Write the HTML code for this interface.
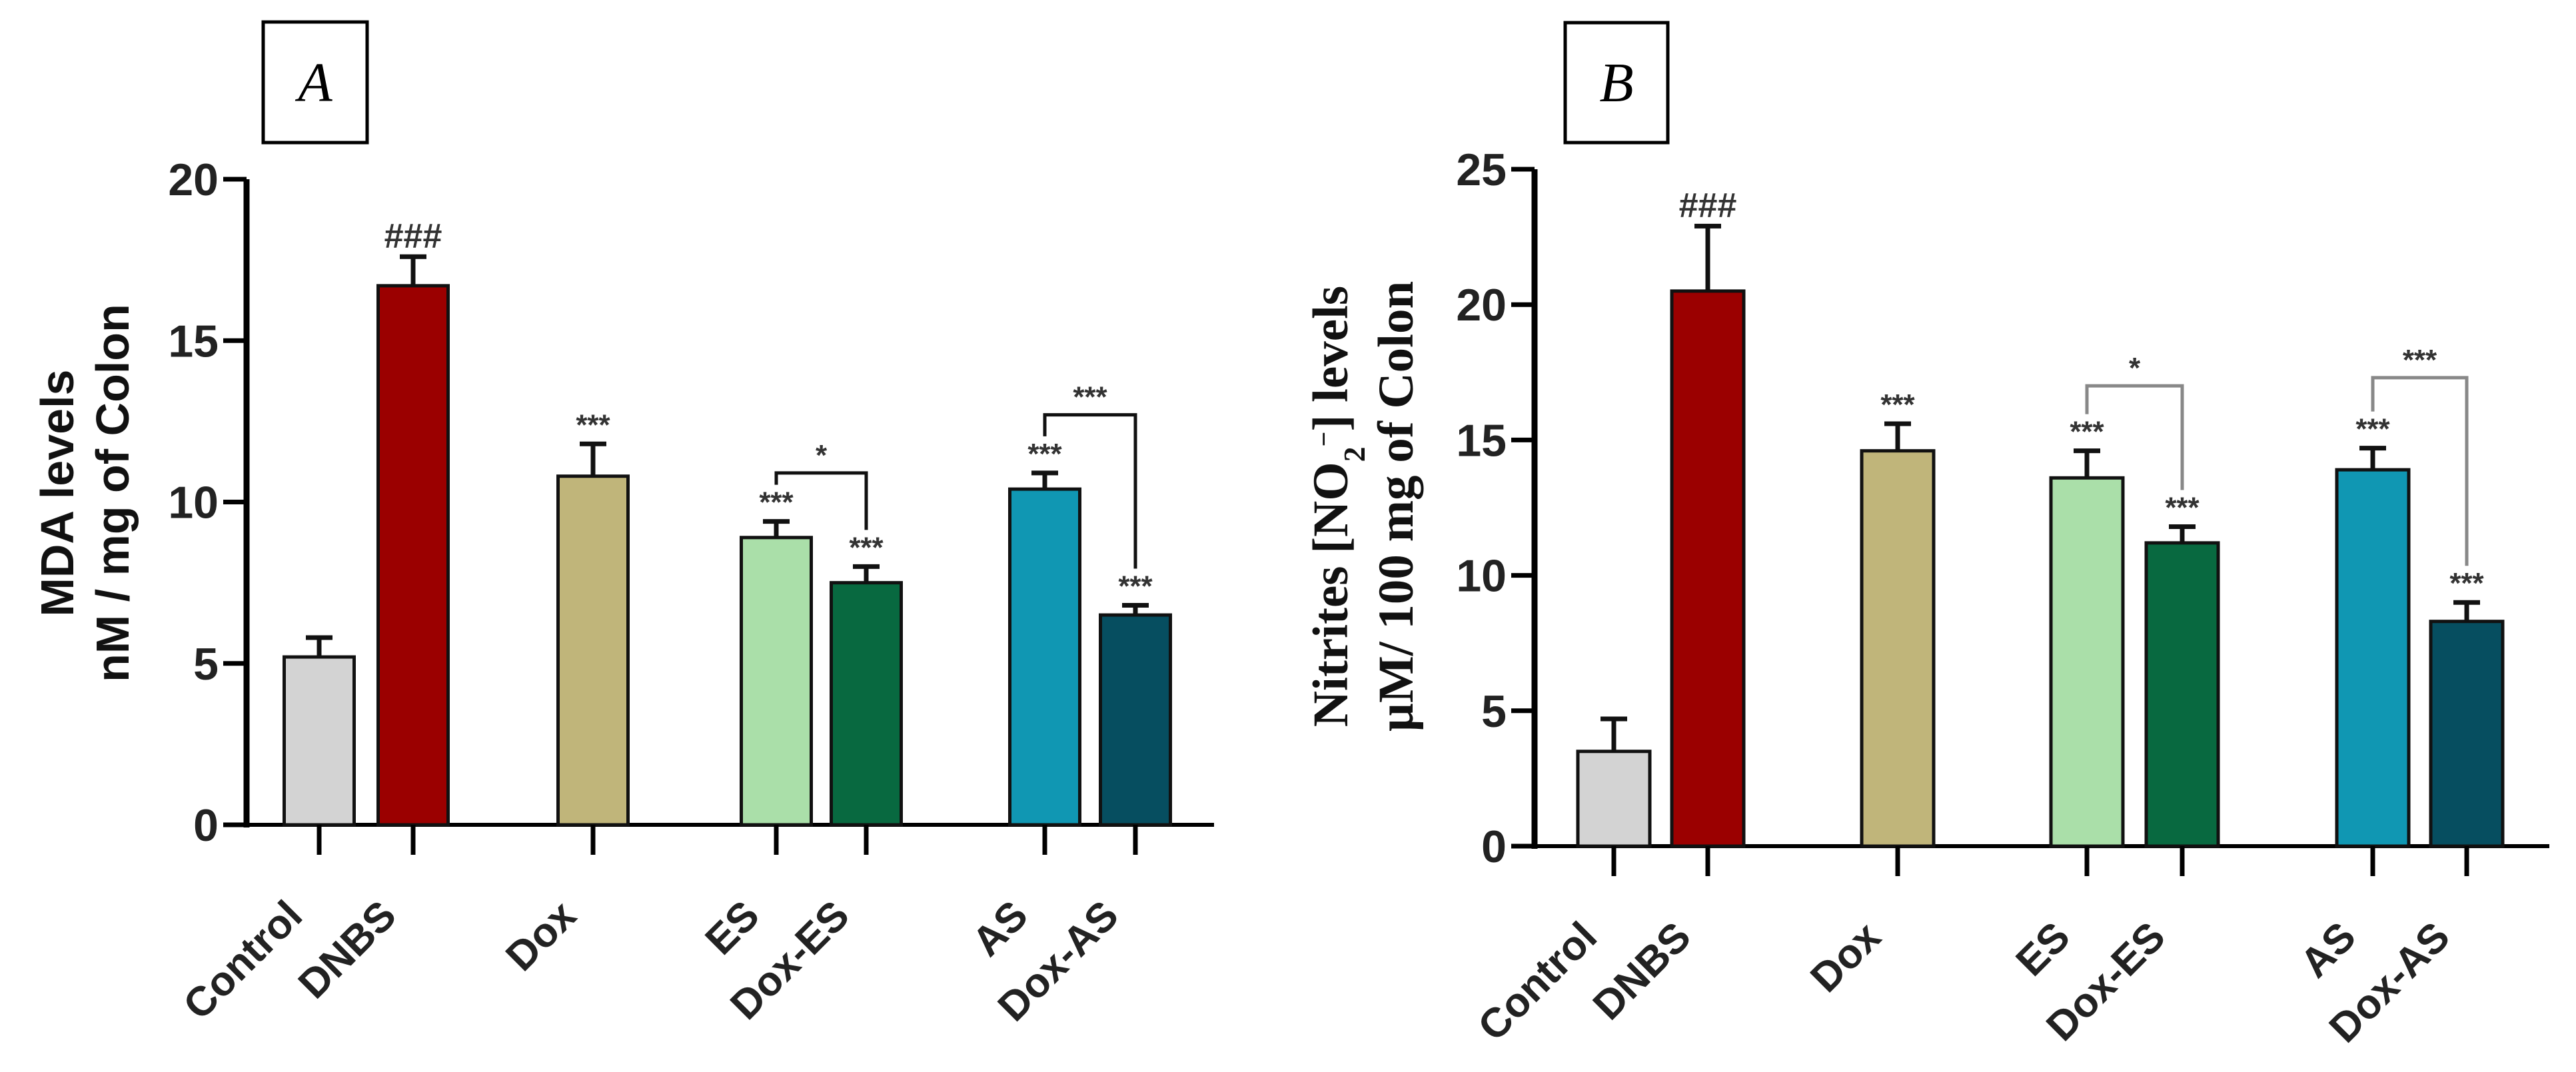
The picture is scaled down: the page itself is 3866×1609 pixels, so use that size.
<!DOCTYPE html>
<html><head><meta charset="utf-8"><style>body{margin:0;background:#fff}svg{display:block}</style></head>
<body>
<svg id="c" width="3866" height="1609" xmlns="http://www.w3.org/2000/svg"></svg>
<script>
const categories = ["Control","DNBS","Dox","ES","Dox-ES","AS","Dox-AS"];
const colors = ["#d3d3d3","#9b0000","#c0b57a","#aadfa9","#086940","#1097b3","#064e60"];
const valuesA = [5.2,16.7,10.8,8.9,7.5,10.4,6.5];
const errorsA = [0.6,0.9,1.0,0.5,0.5,0.5,0.3];
const marksA = ["","###","***","***","***","***","***"];
const valuesB = [3.5,20.5,14.6,13.6,11.2,13.9,8.3];
const errorsB = [1.2,2.4,1.0,1.0,0.6,0.8,0.7];
const marksB = ["","###","***","***","***","***","***"];
const ticksA = [0,5,10,15,20];
const ticksB = [0,5,10,15,20,25];
const bracketsA = [[3,4,10.9,"*"],[5,6,12.7,"***"]];
const bracketsB = [[3,4,17.0,"*"],[5,6,17.3,"***"]];

const NS="http://www.w3.org/2000/svg";
const svg=document.getElementById('c');
function mk(t,a,p){const e=document.createElementNS(NS,t);for(const k in a)e.setAttribute(k,a[k]);(p||svg).appendChild(e);return e;}

function panel(cfg){
  const g=mk('g',{});
  
  
  const y=v=>cfg.y0-(v/cfg.max)*(cfg.y0-cfg.yTop);
  const bw=cfg.bw;
  const ya=mk('line',{x1:cfg.ax,y1:y(cfg.max),x2:cfg.ax,y2:cfg.y0+4,stroke:'#000','stroke-width':9},g);
  
  const xa=mk('line',{x1:cfg.ax-35,y1:cfg.y0,x2:cfg.xEnd,y2:cfg.y0,stroke:'#000','stroke-width':6},g);
  
  cfg.ticks.forEach(t=>{
    const l=mk('line',{x1:cfg.ax-35,y1:y(t),x2:cfg.ax,y2:y(t),stroke:'#000','stroke-width':7},g);
    
    const tx=mk('text',{x:cfg.ax-42,y:y(t)+24,'text-anchor':'end','font-family':'Liberation Sans, sans-serif','font-size':68,'font-weight':'bold',fill:'#222'},g);
    tx.textContent=t;
    
  });
  categories.forEach((c,i)=>{
    const cx=cfg.cx[i];
    const v=cfg.values[i], e=cfg.errors[i];
    const r=mk('rect',{x:cx-bw/2,y:y(v),width:bw,height:cfg.y0-y(v),fill:colors[i],stroke:'#111','stroke-width':5},g);
    
    const el=mk('path',{d:`M${cx},${y(v)} V${y(v+e)} M${cx-20},${y(v+e)} H${cx+20}`,stroke:'#111','stroke-width':7,fill:'none'},g);
    
    const tk=mk('line',{x1:cx,y1:cfg.y0,x2:cx,y2:cfg.y0+45,stroke:'#000','stroke-width':7},g);
    
    if(cfg.marks[i]){
      const m=mk('text',{x:cx,y:y(v+e)-14,'text-anchor':'middle','font-family':'Liberation Sans, sans-serif','font-size':cfg.marks[i]=='###'?52:44,'font-weight':'bold',fill:'#333'},g);
      m.textContent=cfg.marks[i];
      
    }
    const lx=cx-22, ly=cfg.y0+140;
    const xl=mk('text',{x:lx,y:ly,'text-anchor':'end','font-family':'Liberation Sans, sans-serif','font-size':62,'font-weight':'bold',fill:'#222',transform:`rotate(-45 ${lx} ${ly})`},g);
    xl.textContent=c;
    
  });
  cfg.brackets.forEach(b=>{
    const a=cfg.cx[b[0]], c=cfg.cx[b[1]], by=y(b[2]);
    const lowA=y(cfg.values[b[0]]+cfg.errors[b[0]])-55, lowC=y(cfg.values[b[1]]+cfg.errors[b[1]])-55;
    const p=mk('path',{d:`M${a},${lowA} V${by} H${c} V${lowC}`,stroke:cfg.bcol,'stroke-width':5,fill:'none'},g);
    
    const t=mk('text',{x:(a+c)/2,y:by-12,'text-anchor':'middle','font-family':'Liberation Sans, sans-serif','font-size':44,'font-weight':'bold',fill:'#333'},g);
    t.textContent=b[3];
    
  });
  const bx=mk('rect',{x:cfg.box[0],y:cfg.box[1],width:cfg.box[2],height:cfg.box[3],fill:'#fff',stroke:'#000','stroke-width':5},g);
  
  const bt=mk('text',{x:cfg.box[0]+cfg.box[2]/2,y:cfg.box[1]+cfg.box[3]/2+28,'text-anchor':'middle','font-family':'Liberation Serif, serif','font-size':84,'font-style':'italic',fill:'#000'},g);
  bt.textContent=cfg.letter;
  
  cfg.title.forEach((line,k)=>{
    const tx=cfg.titleX[k], ty=cfg.titleY;
    const t=mk('text',{x:tx,y:ty,'text-anchor':'middle','font-family':cfg.titleFont,'font-size':cfg.titleSize,'font-weight':'bold',fill:'#111',transform:`rotate(-90 ${tx} ${ty})`},g);
    t.innerHTML=line;
    
  });
}

panel({name:'panel-a',ax:370,xEnd:1822,y0:1238,yTop:269,max:20,bw:105,
  cx:[479,620,890,1165,1300,1568,1704],values:valuesA,errors:errorsA,marks:marksA,ticks:ticksA,
  brackets:bracketsA,bcol:'#111',box:[395,33,156,181],letter:'A',
  title:['MDA levels','nM / mg of Colon'],titleX:[110,193],titleY:740,titleFont:'Liberation Sans, sans-serif',titleSize:70});
panel({name:'panel-b',ax:2303,xEnd:3826,y0:1270,yTop:254,max:25,bw:108,
  cx:[2422,2563,2848,3132,3275,3561,3702],values:valuesB,errors:errorsB,marks:marksB,ticks:ticksB,
  brackets:bracketsB,bcol:'#888',box:[2349,34,154,180],letter:'B',
  title:['Nitrites [NO<tspan baseline-shift="sub" font-size="46">2</tspan><tspan baseline-shift="super" font-size="40">−</tspan>] levels','µM/ 100 mg of Colon'],titleX:[2022,2120],titleY:760,titleFont:'Liberation Serif, serif',titleSize:75});
</script>
</body></html>
